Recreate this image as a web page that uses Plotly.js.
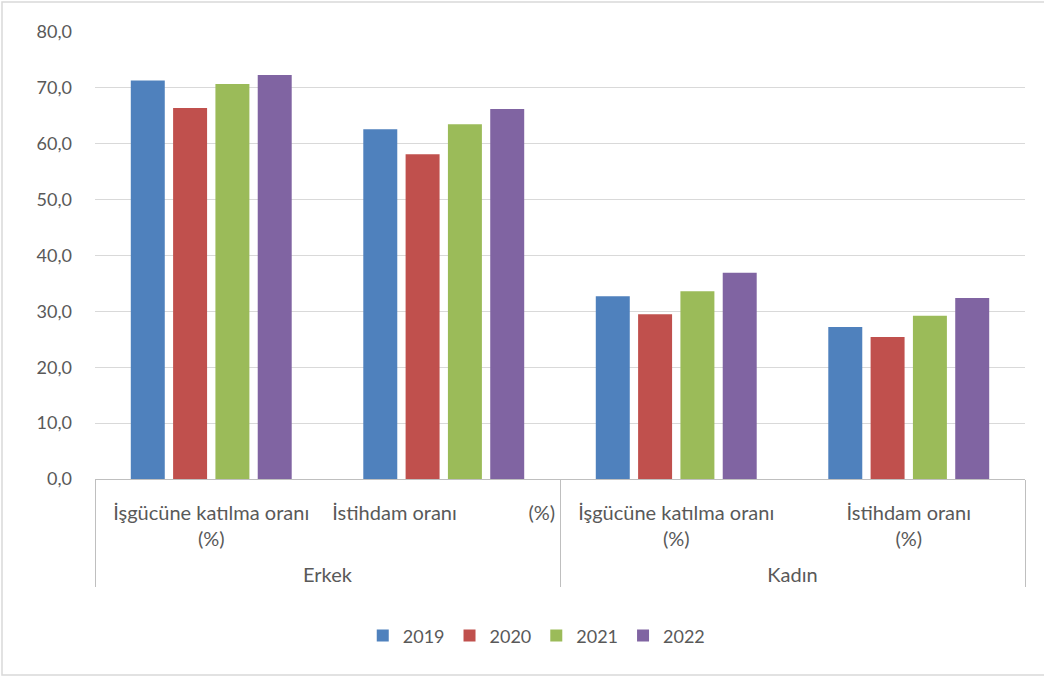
<!DOCTYPE html>
<html>
<head>
<meta charset="utf-8">
<script src="https://cdn.plot.ly/plotly-3.0.1.min.js"></script>
<style>html,body{margin:0;padding:0;background:#fff;}#chart{width:1044px;height:677px;}</style>
</head>
<body>
<div id="chart"></div>
<script>
const groups = ['<br>Erkek', '<br>Erkek', '<br>Kadın', '<br>Kadın'];
const indicators = [
  'İşgücüne katılma oranı<br>(%)',
  'İstihdam oranı\u00a0\u00a0\u00a0\u00a0\u00a0\u00a0\u00a0\u00a0\u00a0\u00a0\u00a0\u00a0\u00a0\u00a0(%)',
  'İşgücüne katılma oranı<br>(%)',
  'İstihdam oranı<br>(%)'
];
const years = ['2019', '2020', '2021', '2022'];
const v2019 = [71.3, 62.6, 32.7, 27.2];
const v2020 = [66.4, 58.1, 29.5, 25.4];
const v2021 = [70.7, 63.5, 33.6, 29.2];
const v2022 = [72.3, 66.2, 36.9, 32.4];
const seriesValues = [v2019, v2020, v2021, v2022];
const colors = ['#4F81BD', '#C0504D', '#9BBB59', '#8064A2'];

const traces = years.map((y, i) => ({
  type: 'bar',
  name: y,
  x: [groups, indicators],
  y: seriesValues[i],
  marker: {color: colors[i]},
  hoverinfo: 'y+name'
}));

const family = 'Lato, "Open Sans", sans-serif';
const tickFont = {family: family, size: 18, color: '#595959'};
const catFont = {family: family, size: 20, color: '#595959'};

const layout = {
  width: 1044,
  height: 677,
  margin: {l: 95, r: 19, t: 32, b: 198},
  paper_bgcolor: '#ffffff',
  plot_bgcolor: '#ffffff',
  separators: ', ',
  font: tickFont,
  barmode: 'group',
  bargap: 0.272,
  bargroupgap: 0.197,
  showlegend: true,
  legend: {
    orientation: 'h',
    x: 0.475, xanchor: 'center',
    y: -0.351, yanchor: 'middle',
    font: tickFont,
    itemwidth: 30,
    traceorder: 'normal'
  },
  xaxis: {
    type: 'multicategory',
    showline: true,
    linecolor: '#BFBFBF',
    linewidth: 1,
    ticks: '',
    ticklabelstandoff: 16,
    showdividers: true,
    dividercolor: '#BFBFBF',
    dividerwidth: 1,
    tickfont: catFont,
    showgrid: false
  },
  yaxis: {
    range: [0, 80],
    dtick: 10,
    tickformat: '.1f',
    showgrid: true,
    gridcolor: '#D9D9D9',
    gridwidth: 1,
    zeroline: false,
    showline: false,
    ticks: '',
    ticklabelstandoff: 22,
    tickfont: tickFont
  },
  shapes: [{
    type: 'rect', xref: 'paper', yref: 'paper',
    x0: -93 / 930, x1: 1015 / 930,
    y0: (479 - 675) / 447, y1: (479 - 2) / 447,
    line: {color: '#D9D9D9', width: 1.5}
  }]
};

Plotly.newPlot('chart', traces, layout, {displayModeBar: false, staticPlot: true});
</script>
</body>
</html>
